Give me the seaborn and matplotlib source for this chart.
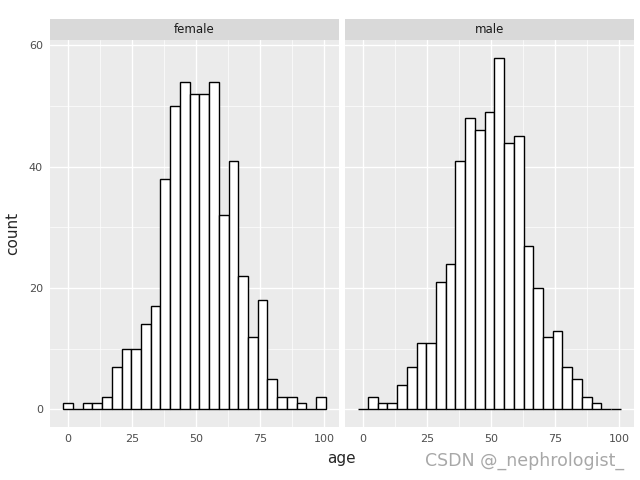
import numpy as np
import pandas as pd
import matplotlib
matplotlib.use("Agg")
import matplotlib.pyplot as plt
import seaborn as sns

# Data (27 shared bins)
bin_start = -1.85
bin_width = 3.8
female_counts = [1, 0, 1, 1, 2, 7, 10, 10, 14, 17, 38, 50, 54, 52, 52, 54, 32, 41,
                 22, 12, 18, 5, 2, 2, 1, 0, 2]
male_counts = [0, 2, 1, 1, 4, 7, 11, 11, 21, 24, 41, 48, 46, 49, 58, 44, 45, 27,
               20, 12, 13, 7, 5, 2, 1, 0, 0]
panels = ["female", "male"]
x_ticks = [0, 25, 50, 75, 100]
y_ticks = [0, 20, 40, 60]

nb = len(female_counts)
edges = bin_start + bin_width * np.arange(nb + 1)
centers = (edges[:-1] + edges[1:]) / 2

df = pd.DataFrame({
    "age": np.concatenate([centers, centers]),
    "count": female_counts + male_counts,
    "sex": ["female"] * nb + ["male"] * nb,
})

sns.set_style("white")
plt.rcParams["font.family"] = ["DejaVu Sans"]

fig = plt.figure(figsize=(6.4, 4.8), dpi=100)
W, H = 640, 480
lefts = [50, 345]
pw = 289
top, bottom = 40, 427
xlim = (edges[0] - 0.05 * (edges[-1] - edges[0]), edges[-1] + 0.05 * (edges[-1] - edges[0]))
ymax = max(max(female_counts), max(male_counts))
ylim = (-0.05 * ymax, ymax * 1.05)

for i, sex in enumerate(panels):
    ax = fig.add_axes([lefts[i] / W, 1 - bottom / H, pw / W, (bottom - top) / H])
    ax.set_facecolor("#EBEBEB")
    ax.set_axisbelow(True)
    sub = df[df["sex"] == sex]
    sns.histplot(data=sub, x="age", weights="count", binwidth=bin_width,
                 binrange=(float(edges[0]), float(edges[-1]) + 1e-9), ax=ax,
                 color="white", edgecolor="black", linewidth=1.0, alpha=1.0)
    ax.set_xlim(*xlim)
    ax.set_ylim(*ylim)
    ax.set_xticks(x_ticks)
    ax.set_yticks(y_ticks)
    ax.set_xticks([12.5, 37.5, 62.5, 87.5], minor=True)
    ax.set_yticks([10, 30, 50], minor=True)
    ax.grid(which="major", color="white", linewidth=1.0)
    ax.grid(which="minor", color="white", linewidth=0.5)
    for s in ax.spines.values():
        s.set_visible(False)
    ax.tick_params(which="major", length=3, color="#333333", labelsize=8,
                   labelcolor="#4D4D4D", pad=2)
    ax.tick_params(which="minor", length=0)
    ax.set_xlabel("")
    ax.set_ylabel("")
    if i == 1:
        ax.tick_params(axis="y", which="major", length=0, labelleft=False)
    # strip
    sax = fig.add_axes([lefts[i] / W, 1 - top / H, pw / W, 21 / H])
    sax.set_facecolor("#D9D9D9")
    sax.set_xticks([])
    sax.set_yticks([])
    for s in sax.spines.values():
        s.set_visible(False)
    sax.text(0.5, 0.5, sex, ha="center", va="center", fontsize=8.5, color="#1A1A1A",
             transform=sax.transAxes)

fig.text(341 / W, 1 - 459 / H, "age", ha="center", va="center", fontsize=11)
fig.text(13 / W, 1 - 233 / H, "count", ha="center", va="center", fontsize=11, rotation=90)
fig.text(525 / W, 1 - 461 / H, "CSDN @_nephrologist_", ha="center", va="center",
         fontsize=12.5, color="#A8A8A8")

fig.savefig("out.png", dpi=100)
